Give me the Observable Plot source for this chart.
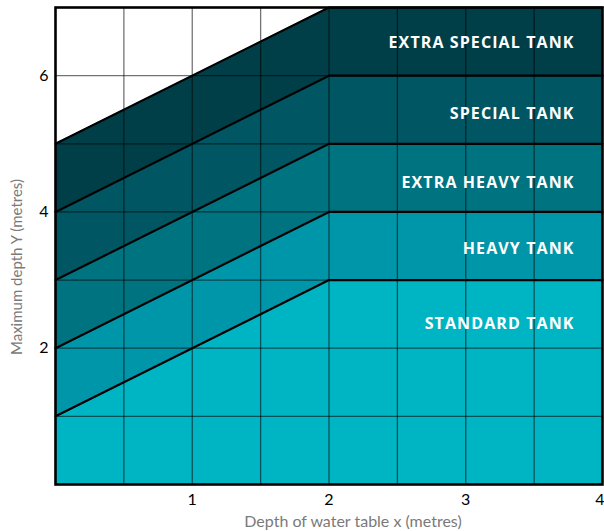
<!DOCTYPE html>
<html>
<head>
<meta charset="utf-8">
<script src="https://cdn.jsdelivr.net/npm/d3@7"></script>
<script src="https://cdn.jsdelivr.net/npm/@observablehq/plot@0.6"></script>
<style>
  html, body { margin: 0; padding: 0; background: #fff; }
  #chart svg { display: block; }
  #chart g[aria-label="text"][fill="white"] text { letter-spacing: 1.1px; }
</style>
</head>
<body>
<div id="chart"></div>
<script>
// Boundary x positions (metres) and the upper limit of each tank class
const xs = [0, 2, 4];
const groundLine = [0, 0, 0];
const standardTop = [1, 3, 3];
const heavyTop = [2, 4, 4];
const extraHeavyTop = [3, 5, 5];
const specialTop = [4, 6, 6];
const extraSpecialTop = [5, 7, 7];

const tankNames = ["STANDARD TANK", "HEAVY TANK", "EXTRA HEAVY TANK", "SPECIAL TANK", "EXTRA SPECIAL TANK"];
const tankColors = ["#00b5c3", "#0096a9", "#007381", "#005663", "#003f48"];
const labelY = [2.36, 3.46, 4.43, 5.44, 6.48];

const xTicks = [1, 2, 3];
const xLastTick = [4];
const yTicks = [2, 4, 6];
const xGrid = [0.5, 1, 1.5, 2, 2.5, 3, 3.5];
const yGrid = [1, 2, 3, 4, 5, 6];

const xLabel = "Depth of water table x (metres)";
const yLabel = "Maximum depth Y (metres)";

const limits = [groundLine, standardTop, heavyTop, extraHeavyTop, specialTop, extraSpecialTop];

const bands = tankNames.map((name, k) =>
  xs.map((x, i) => ({x, y1: limits[k][i], y2: limits[k + 1][i], tank: name}))
);
const boundaryLines = limits.slice(1).map((lim, k) =>
  xs.map((x, i) => ({x, y: lim[i], line: k}))
);
const labels = tankNames.map((name, k) => ({name, y: labelY[k]}));

const marks = [];
bands.forEach((rows, k) => {
  marks.push(Plot.areaY(rows, {x: "x", y1: "y1", y2: "y2", fill: tankColors[k]}));
});
marks.push(Plot.ruleX(xGrid, {stroke: "black", strokeOpacity: 0.55, strokeWidth: 1.3}));
marks.push(Plot.ruleY(yGrid, {stroke: "black", strokeOpacity: 0.55, strokeWidth: 1.3}));
boundaryLines.forEach(rows => {
  marks.push(Plot.line(rows, {x: "x", y: "y", stroke: "black", strokeWidth: 2.2}));
});
marks.push(Plot.text(labels, {
  y: "y", text: "name", frameAnchor: "right", textAnchor: "end", dx: -28,
  fill: "white", fontWeight: "bold", fontSize: 16, fontFamily: "Open Sans"
}));
marks.push(Plot.frame({stroke: "black", strokeWidth: 2.6}));
marks.push(Plot.axisX(xTicks, {tickSize: 0, tickPadding: 9, label: null, fontSize: 16, tickFormat: "d"}));
marks.push(Plot.axisX(xLastTick, {tickSize: 0, tickPadding: 9, label: null, fontSize: 16, tickFormat: "d", textAnchor: "end", dx: 2}));
marks.push(Plot.axisY(yTicks, {tickSize: 0, tickPadding: 7, label: null, fontSize: 16, tickFormat: "d"}));
marks.push(Plot.text([xLabel], {
  frameAnchor: "bottom", text: d => d, dy: 37, dx: 24, textAnchor: "middle", lineAnchor: "middle",
  fill: "#7a7a7a", fontSize: 16
}));
marks.push(Plot.text([yLabel], {
  frameAnchor: "left", text: d => d, rotate: -90, dx: -38, dy: 21, textAnchor: "middle", lineAnchor: "middle",
  fill: "#7a7a7a", fontSize: 15
}));

const chart = Plot.plot({
  width: 604,
  height: 531,
  marginLeft: 55,
  marginRight: 2,
  marginTop: 7,
  marginBottom: 47,
  style: {fontFamily: "Lato", fontSize: "16px", color: "black", background: "white"},
  x: {domain: [0, 4]},
  y: {domain: [0, 7]},
  marks
});
document.getElementById("chart").appendChild(chart);
</script>
</body>
</html>
